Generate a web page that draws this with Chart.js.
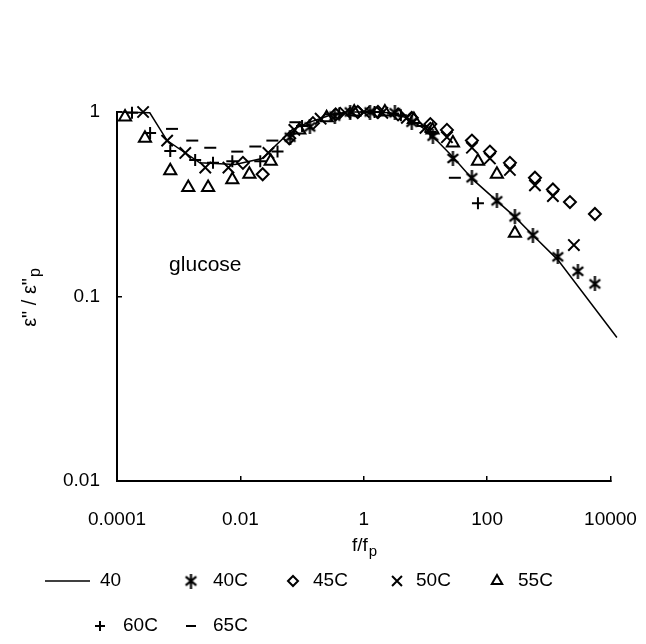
<!DOCTYPE html>
<html>
<head>
<meta charset="utf-8">
<script src="https://cdn.jsdelivr.net/npm/chart.js@4/dist/chart.umd.min.js"></script>
<style>
  html, body { margin: 0; padding: 0; background: #fff; }
</style>
</head>
<body>
<canvas id="chart" width="646" height="644"></canvas>
<script>
// normalised loss curve e''/e''p against f/fp, log-log
// each point is [f/fp, e''/e''p]
const fit40 = [
  [1e-4, 1.0], [3.4e-4, 0.99], [6.5e-4, 0.70], [2.2e-3, 0.53], [8.2e-3, 0.52],
  [0.0224, 0.56], [0.0686, 0.80], [0.12, 0.87], [0.283, 0.96], [0.53, 1.0],
  [1.26, 1.0], [2.66, 0.99], [5.0, 0.93], [9.1, 0.82], [15.3, 0.70],
  [27.9, 0.57], [59, 0.43], [282, 0.27], [552, 0.215], [1400, 0.158], [12700, 0.060],
]
const pts40C = [
  [0.064, 0.73], [0.134, 0.83], [0.34, 0.95], [0.6, 1.0], [1.26, 1.0], [3.2, 0.99],
  [6.0, 0.88], [13.2, 0.74], [27.9, 0.56], [56.7, 0.44], [144, 0.33], [282, 0.27],
  [552, 0.215], [1400, 0.164], [2960, 0.137], [5590, 0.117],
]
const pts45C = [
  [0.011, 0.53], [0.023, 0.46], [0.062, 0.72], [0.15, 0.87], [0.35, 0.97], [0.8, 1.0],
  [1.7, 1.0], [3.6, 0.97], [6.0, 0.93], [12, 0.86], [22.3, 0.80], [56.7, 0.70],
  [111, 0.61], [234, 0.53], [596, 0.44], [1165, 0.38], [2200, 0.325], [5590, 0.28],
]
const pts50C = [
  [2.65e-4, 1.0], [6.5e-4, 0.70], [1.28e-3, 0.60], [2.7e-3, 0.50], [6.4e-3, 0.50],
  [0.0285, 0.60], [0.075, 0.80], [0.2, 0.92], [0.5, 0.99], [1.0, 1.0], [2.0, 0.99],
  [5, 0.93], [10, 0.82], [22.3, 0.73], [56.7, 0.64], [111, 0.56], [234, 0.485],
  [596, 0.40], [1165, 0.35], [2550, 0.19],
]
const pts55C = [
  [1.35e-4, 0.94], [2.84e-4, 0.72], [7.3e-4, 0.48], [1.43e-3, 0.39], [3.0e-3, 0.39],
  [7.4e-3, 0.43], [0.014, 0.46], [0.031, 0.54], [0.09, 0.80], [0.25, 0.93], [0.7, 1.0],
  [2.2, 1.0], [6.5, 0.91], [13, 0.80], [27.9, 0.68], [71, 0.54], [144, 0.46], [282, 0.22],
]
const pts60C = [
  [1.75e-4, 0.99], [3.44e-4, 0.77], [7.3e-4, 0.615], [1.85e-3, 0.55], [3.6e-3, 0.53],
  [7.4e-3, 0.54], [0.021, 0.54], [0.040, 0.61], [0.1, 0.84], [0.4, 0.98], [1.5, 1.0],
  [4, 0.96], [12, 0.78], [71, 0.32],
]
const pts65C = [
  [7.8e-4, 0.81], [1.66e-3, 0.70], [3.25e-3, 0.64], [8.9e-3, 0.61], [0.0175, 0.65],
  [0.033, 0.70], [0.078, 0.88], [0.3, 0.97], [1.1, 1.0], [3, 0.98], [9, 0.84], [30, 0.44],
]

const xTicks = [1e-4, 1e-2, 1, 100, 1e4]
const xTickLabels = ['0.0001', '0.01', '1', '100', '10000']
const yTicks = [0.01, 0.1, 1]
const yTickLabels = ['0.01', '0.1', '1']

const FONT = '"Liberation Sans", Arial, sans-serif'
const toXY = pts => pts.map(([x, y]) => ({ x, y }))

// the asterisk marker is an x with a vertical bar through it
function asterisk(size, lw) {
  const c = document.createElement('canvas')
  c.width = c.height = size
  const g = c.getContext('2d')
  g.strokeStyle = '#000'
  g.lineWidth = lw
  const a = lw, b = size - lw
  g.beginPath()
  g.moveTo(a, a + 1); g.lineTo(b, b - 1)
  g.moveTo(b, a + 1); g.lineTo(a, b - 1)
  g.moveTo(size / 2, 0); g.lineTo(size / 2, size)
  g.stroke()
  return c
}

const marker = (label, pts, pointStyle, radius) => ({
  label,
  data: toXY(pts),
  showLine: false,
  pointStyle,
  pointRadius: radius,
  pointBorderWidth: 2,
  pointBorderColor: '#000',
  pointBackgroundColor: 'transparent',
  clip: false,
})

const datasets = [
  {
    label: '40',
    data: toXY(fit40),
    showLine: true,
    pointRadius: 0,
    borderColor: '#000',
    borderWidth: 1.5,
    clip: false,
  },
  marker('40C', pts40C, asterisk(15, 2.2), 7),
  marker('45C', pts45C, 'rectRot', 6),
  marker('50C', pts50C, 'crossRot', 8),
  marker('55C', pts55C, 'triangle', 7),
  marker('60C', pts60C, 'cross', 6),
  marker('65C', pts65C, 'line', 6),
]

// text with a smaller, lowered "p" subscript, centred on (cx, cy)
function subText(ctx, main, sub, cx, cy, size) {
  ctx.font = `${size}px ${FONT}`
  const w1 = ctx.measureText(main).width
  ctx.font = `${size - 4}px ${FONT}`
  const w2 = ctx.measureText(sub).width
  const x = cx - (w1 + w2) / 2
  ctx.textAlign = 'left'
  ctx.textBaseline = 'middle'
  ctx.font = `${size}px ${FONT}`
  ctx.fillText(main, x, cy)
  ctx.font = `${size - 4}px ${FONT}`
  ctx.fillText(sub, x + w1 + 1, cy + 6)
}

// legend slots: [marker centre x, text left x, row y]
const legendSlots = [
  [67, 100, 581], [191, 213, 581], [293, 313, 581], [397, 416, 581], [497, 518, 581],
  [100, 123, 626], [191, 213, 626],
]

const labelsPlugin = {
  id: 'labels',
  afterDraw(chart) {
    const { ctx, scales: { x, y } } = chart
    ctx.save()
    ctx.fillStyle = '#000'
    ctx.strokeStyle = '#000'

    ctx.font = `21px ${FONT}`
    ctx.textAlign = 'center'
    ctx.textBaseline = 'middle'
    ctx.fillText('glucose', x.getPixelForValue(2.7e-3), y.getPixelForValue(0.148))

    subText(ctx, 'f/f', 'p', 364, 546, 19)

    ctx.save()
    ctx.translate(30, 298)
    ctx.rotate(-Math.PI / 2)
    subText(ctx, 'ε" / ε"', 'p', 0, 0, 20)
    ctx.restore()

    chart.data.datasets.forEach((ds, i) => {
      const [mx, tx, ty] = legendSlots[i]
      if (ds.showLine) {
        ctx.lineWidth = 1.5
        ctx.beginPath()
        ctx.moveTo(45, ty)
        ctx.lineTo(90, ty)
        ctx.stroke()
      } else {
        ctx.lineWidth = 2
        ctx.fillStyle = 'transparent'
        Chart.helpers.drawPoint(ctx, {
          pointStyle: ds.pointStyle,
          radius: ds.pointRadius - 1,
          borderWidth: 2,
          rotation: 0,
        }, mx, ty)
        ctx.fillStyle = '#000'
      }
      ctx.font = `19px ${FONT}`
      ctx.textAlign = 'left'
      ctx.textBaseline = 'middle'
      ctx.fillText(ds.label, tx, ty)
    })
    ctx.restore()
  },
}

const axisCommon = {
  type: 'logarithmic',
  border: { color: '#000', width: 2 },
  grid: { drawOnChartArea: false, drawTicks: true, tickLength: -5, color: '#000', lineWidth: 1.5 },
}

new Chart(document.getElementById('chart'), {
  type: 'scatter',
  data: { datasets },
  options: {
    responsive: false,
    animation: false,
    devicePixelRatio: 1,
    layout: { padding: { top: 112, right: 35.5, left: 0, bottom: 0 } },
    plugins: { legend: { display: false }, tooltip: { enabled: false } },
    scales: {
      x: {
        ...axisCommon,
        position: 'bottom',
        min: 1e-4,
        max: 1e4,
        afterBuildTicks: s => { s.ticks = xTicks.map(value => ({ value })) },
        afterFit: s => { s.height = 163; s.paddingLeft = 0; s.paddingRight = 0 },
        ticks: {
          color: '#000',
          font: { family: FONT, size: 19 },
          padding: 32,
          maxRotation: 0,
          autoSkip: false,
          callback: (v, i) => xTickLabels[i],
        },
      },
      y: {
        ...axisCommon,
        position: 'left',
        min: 0.01,
        max: 1,
        afterBuildTicks: s => { s.ticks = yTicks.map(value => ({ value })) },
        afterFit: s => { s.width = 117; s.paddingTop = 0; s.paddingBottom = 0 },
        ticks: {
          color: '#000',
          font: { family: FONT, size: 19 },
          padding: 22,
          autoSkip: false,
          callback: (v, i) => yTickLabels[i],
        },
      },
    },
  },
  plugins: [labelsPlugin],
})
</script>
</body>
</html>
